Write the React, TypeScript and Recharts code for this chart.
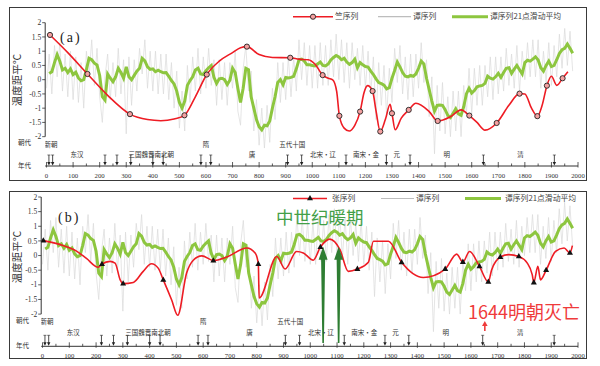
import React from "react"
import { ComposedChart, Line, Scatter, XAxis, YAxis, ReferenceLine } from "recharts"

// ---- data ----

// 谭序列: annual stalagmite series, sampled every 10 years from year 0
const TAN_START = 0
const TAN_STEP = 10
const tanAnnual = [
  -0.3, 0.9, -0.5, 1.2, 0.1, 1.3, -0.4, 0.9, -0.6, 1.0,
  -0.7, 0.8, -0.8, 0.6, -1.0, 1.0, 0.1, 1.4, -0.2, 1.1,
  -0.6, -1.5, 0.1, 0.9, -0.7, 0.6, -0.6, 1.1, -0.5, 0.7,
  -1.9, 0.8, -0.9, 0.7, -0.4, 1.1, 0.2, 1.4, -0.3, 1.0,
  -0.4, 1.0, -0.5, 0.9, -0.5, 0.9, -0.7, 0.6, -1.0, 0.3,
  -1.7, -0.4, -1.8, 0.5, -0.8, 0.8, -0.4, 1.1, -0.5, 0.8,
  -0.3, 1.1, -0.2, 0.7, -0.9, 0.7, -0.7, 0.6, -0.9, 0.6,
  -0.3, 1.0, -1.1, -1.6, 0.4, 1.2, -0.4, 0.3, -1.8, -0.7,
  -2.3, -1.0, -2.4, -0.9, -2.2, -0.3, -1.4, 0.6, -0.8, 0.6,
  -0.7, 0.8, -0.6, 0.8, -0.4, 1.4, 0.0, 1.3, -0.2, 1.2,
  -0.3, 1.2, -0.3, 1.3, -0.2, 1.2, -0.2, 1.4, 0.1, 1.6,
  0.0, 1.4, -0.1, 1.3, -0.3, 1.3, 0.0, 1.1, -0.2, 1.2,
  -0.3, 1.0, -0.5, 0.8, -1.4, 0.6, -0.9, 0.5, -1.3, 0.4,
  -0.8, 1.1, -0.1, 1.2, -0.5, 0.8, -0.7, 0.9, -0.6, 0.9,
  -0.3, 1.3, -0.1, 0.7, -1.3, 0.1, -2.6, -0.2, -1.8, -0.1,
  -1.9, -0.6, -2.0, -0.4, -1.8, -0.4, -2.0, -0.2, -1.2, 0.4,
  -1.2, 0.4, -0.9, 0.5, -0.9, 0.5, -0.6, 0.8, -0.7, 0.8,
  -0.5, 0.8, -0.4, 1.1, -0.2, 0.9, -0.3, 1.2, -0.4, 1.0,
  0.0, 1.3, 0.1, 1.4, 0.1, 1.4, -0.3, 1.0, -0.1, 1.3,
  -0.2, 1.2, 0.1, 1.6, 0.4, 1.8, 0.5, 1.7, 0.3,
]

// 谭序列21点滑动平均, every 10 years from year 10
const SMOOTH_START = 10
const SMOOTH_STEP = 10
const tanSmooth = [
  0.22, 0.28, 0.6, 0.88, 0.65, 0.34, 0.4, 0.25, 0.38, 0.18,
  0.26, 0.06, -0.04, 0.0, 0.35, 0.75, 0.7, 0.58, 0.52, 0.15,
  -0.6, -0.72, 0.2, 0.05, -0.07, 0.1, 0.4, 0.25, 0.05, 0.45,
  0.1, 0.0, 0.15, 0.3, 0.4, 0.75, 0.66, 0.45, 0.36, 0.38,
  0.28, 0.33, 0.28, 0.24, 0.25, 0.12, -0.03, -0.15, -0.4, -0.8,
  -1.0, -0.75, -0.2, -0.03, 0.1, 0.34, 0.4, 0.2, 0.18, 0.32,
  0.42, 0.5, 0.08, -0.13, 0.03, 0.05, 0.0, -0.17, -0.02, 0.4,
  0.25, -0.3, -0.8, -0.3, 0.4, 0.35, -0.6, -1.0, -1.4, -1.65,
  -1.76, -1.6, -1.62, -1.45, -1.0, -0.6, -0.1, 0.0, -0.18, 0.08,
  0.06, 0.08, 0.12, 0.38, 0.7, 0.72, 0.65, 0.52, 0.52, 0.5,
  0.48, 0.55, 0.62, 0.5, 0.48, 0.55, 0.69, 0.78, 0.85, 0.8,
  0.7, 0.75, 0.62, 0.54, 0.6, 0.72, 0.42, 0.6, 0.52, 0.46,
  0.44, 0.3, 0.18, 0.03, -0.1, -0.14, -0.19, -0.32, -0.28, 0.05,
  0.32, 0.62, 0.45, 0.25, 0.12, 0.1, 0.15, 0.12, 0.2, 0.4,
  0.65, 0.55, 0.05, -0.35, -0.75, -1.1, -0.9, -0.89, -0.9, -1.05,
  -1.25, -1.33, -1.18, -1.02, -1.2, -1.25, -0.95, -0.5, -0.3, -0.47,
  -0.38, -0.25, -0.22, -0.2, -0.13, 0.12, 0.05, 0.02, 0.1, 0.22,
  0.08, 0.25, 0.4, 0.42, 0.22, 0.37, 0.5, 0.35, 0.2, 0.6,
  0.68, 0.65, 0.72, 0.8, 0.69, 0.42, 0.3, 0.5, 0.65, 0.46,
  0.5, 0.7, 0.92, 1.05, 1.1, 1.25, 1.1, 0.93,
]

// 竺序列 (panel a)
const zhuYears = [
  13, 80, 154, 230, 314, 380, 430, 480, 519, 560, 603, 650, 700, 730, 754, 800, 850, 917, 950, 985,
  1010, 1039, 1060, 1077, 1092, 1102, 1120, 1139, 1160, 1180, 1195, 1208, 1227, 1240, 1256, 1275,
  1293, 1300, 1312, 1335, 1363, 1390, 1440, 1472, 1520, 1560, 1591, 1620, 1650, 1694, 1740, 1780,
  1800, 1825, 1847, 1865, 1883, 1900, 1920, 1942, 1962,
]
const zhuValues = [
  1.57, 0.95, 0.2, -0.55, -1.21, -1.4, -1.44, -1.38, -1.25, -0.6, 0.18, 0.65, 0.95, 1.12, 1.16, 0.88, 0.78, 0.77, 0.72, 0.7,
  0.55, 0.16, 0.05, -0.01, -0.42, -1.27, -1.7, -1.8, -1.6, -1.12, -0.45, -0.21, -0.4, -1.1, -1.82, -1.4,
  -0.86, -1.18, -1.76, -1.35, -1.06, -0.83, -1.12, -1.45, -1.3, -1.06, -1.26, -1.5, -1.77, -1.52, -0.9, -0.49,
  -0.5, -1.0, -1.28, -0.9, -0.21, 0.12, -0.2, 0.05, 0.28,
]
const zhuMarkYears = [13, 154, 314, 519, 603, 754, 917, 1039, 1102, 1180, 1227, 1256, 1300, 1363, 1472, 1591, 1694, 1780, 1847, 1883, 1942]

// 张序列 (panel b)
const zhangYears = [
  3, 90, 127, 164, 208, 222, 252, 271, 290, 301, 339, 376, 407, 432, 451, 482, 505, 538, 563, 595,
  638, 688, 763, 794, 806, 809, 875, 906, 949, 974, 1011, 1038, 1073, 1111, 1142, 1176, 1217, 1236,
  1292, 1341, 1422, 1504, 1547, 1570, 1595, 1632, 1665, 1677, 1710, 1741, 1779, 1810, 1829, 1835,
  1850, 1860, 1881, 1916, 1948, 1970, 1979,
]
const zhangValues = [
  0.51, 0.3, 0.15, -0.1, -0.4, -0.29, -0.2, -0.26, -0.83, -0.96, -0.92, -0.54, -0.28, -0.43, -0.83, -1.51, -2.04, -0.6, -0.16, -0.01,
  -0.17, -0.05, 0.26, 0.09, -0.29, -1.45, -0.03, -0.46, 0.14, 0.09, -0.16, 0.29, 0.56, 0.2, -0.54, -0.46, -0.23, 0.49,
  0.49, -0.23, -0.75, -0.46, 0.05, -0.22, 0.14, -0.37, -0.9, -0.5, -0.05, 0.03, -0.03, -0.25, -0.65, -0.92,
  -0.37, -0.83, -0.5, 0.14, 0.26, 0.09, 0.34,
]
const zhangMarkYears = [3, 222, 301, 451, 638, 806, 1038, 1176, 1341, 1504, 1570, 1632, 1665, 1710, 1779, 1835, 1881, 1970]

// dynasty timeline
const dynastyNames = ["新朝", "东汉", "三国魏晋南北朝", "隋", "唐", "五代十国", "北宋・辽", "南宋・金", "元", "明", "清"]
const dynastyYears = [17, 115, 394, 600, 773, 925, 1040, 1202, 1318, 1506, 1784]
const dynastyUpper = [true, false, false, true, false, true, false, false, false, false, false]
const dynastyBreaks = [9, 23, 220, 265, 317, 400, 439, 581, 618, 907, 960, 1127, 1279, 1368, 1644, 1911]

const yearLabels = [0, 100, 200, 300, 400, 500, 600, 700, 800, 900, 1000, 1100, 1200, 1300, 1400, 1500, 1600, 1700, 1800, 1900, 2000]
const tempTicks = [-2, -1.5, -1, -0.5, 0, 0.5, 1, 1.5, 2]

const warmPeriodYears = [1048, 1106]
const MING_FALL_YEAR = 1652

// ---- helpers ----
const FONT_CJK = '"Noto Sans CJK SC", "Noto Sans", sans-serif'
const FONT_NUM = '"Liberation Serif", "DejaVu Serif", serif'
const RED = "#ee1c24"
const GREEN = "#8dc63f"
const GRAY = "#dadada"

const fromStep = (start: number, step: number, vals: number[]) => vals.map((v, i) => ({ year: start + i * step, v }))
const fromPairs = (years: number[], vals: number[]) => years.map((year, i) => ({ year, v: vals[i] }))

const grayData = fromStep(TAN_START, TAN_STEP, tanAnnual)
const greenData = fromStep(SMOOTH_START, SMOOTH_STEP, tanSmooth)
const zhuData = fromPairs(zhuYears, zhuValues)
const zhuMarks = zhuData.filter((d) => zhuMarkYears.includes(d.year))
const zhangData = fromPairs(zhangYears, zhangValues)
const zhangMarks = zhangData.filter((d) => zhangMarkYears.includes(d.year))

const xTicks = [...yearLabels, ...yearLabels.slice(0, -1).map((y) => y + 50)].sort((a, b) => a - b)
const UPPER_ROW = -2.27
const LOWER_ROW = -2.64
const dynastyData = dynastyNames.map((name, i) => ({ year: dynastyYears[i], v: dynastyUpper[i] ? UPPER_ROW : LOWER_ROW, name }))

function YearTick({ x, y, payload }: any) {
  const v = payload.value
  const major = v % 100 === 0
  return (
    <g>
      <line x1={x} x2={x} y1={y - (major ? 4 : 2.5)} y2={y + (major ? 1.5 : 0)} stroke="#333" strokeWidth={0.8} />
      {major && (
        <text x={x} y={y + 12} textAnchor="middle" fontSize={6.8} fontFamily={FONT_NUM} fill="#333">
          {v}
        </text>
      )}
    </g>
  )
}

const circleMark = (p: any) => <circle cx={p.cx} cy={p.cy} r={2.6} fill="#f4a0a0" stroke="#222" strokeWidth={0.9} />
const triangleMark = (p: any) => (
  <path d={`M${p.cx},${p.cy - 3.4} L${p.cx + 3},${p.cy + 1.9} L${p.cx - 3},${p.cy + 1.9} Z`} fill="#111" />
)
const breakArrow = (p: any) => (
  <g>
    <line x1={p.cx} x2={p.cx} y1={p.cy - 11} y2={p.cy - 3} stroke="#222" strokeWidth={0.8} />
    <line x1={p.cx - 1.5} x2={p.cx + 1.5} y1={p.cy - 11} y2={p.cy - 11} stroke="#222" strokeWidth={0.6} />
    <path d={`M${p.cx - 1.7},${p.cy - 4} L${p.cx + 1.7},${p.cy - 4} L${p.cx},${p.cy - 0.5} Z`} fill="#222" />
  </g>
)
const dynastyLabel = (p: any) => (
  <text x={p.cx} y={p.cy} dy="0.35em" textAnchor="middle" fontSize={6.5} fontFamily={FONT_CJK} fill="#333">
    {p.payload.name}
  </text>
)
const greenArrow = (p: any) => {
  const { x1, y1, y2 } = p
  const x = x1
  const head = y2 + 13
  const pts = [
    [x, y2], [x + 4.5, head], [x + 2, head], [x + 0.8, y1], [x - 0.8, y1], [x - 2, head], [x - 4.5, head],
  ]
  return <polygon points={pts.map((q) => q.join(",")).join(" ")} fill="#2e7d32" />
}
const redArrow = (p: any) => {
  const { x1, y1, y2 } = p
  return (
    <g>
      <line x1={x1} x2={x1} y1={y1} y2={y2 + 4} stroke="#ef3b3b" strokeWidth={1.6} />
      <path d={`M${x1 - 2.8},${y2 + 5} L${x1 + 2.8},${y2 + 5} L${x1},${y2} Z`} fill="#ef3b3b" />
    </g>
  )
}

type PanelProps = {
  top: number
  height: number
  marginTop: number
  marginBottom: number
  axisWidth: number
  yMin: number
  red: { year: number; v: number }[]
  marks: { year: number; v: number }[]
  mark: (p: any) => React.ReactElement
  annotate?: boolean
}

function Panel({ top, height, marginTop, marginBottom, axisWidth, yMin, red, marks, mark, annotate }: PanelProps) {
  const breakData = dynastyBreaks.map((year) => ({ year, v: yMin }))
  return (
    <div style={{ position: "absolute", left: 0, top }}>
      <ComposedChart width={600} height={height} margin={{ top: marginTop, right: 22, bottom: marginBottom, left: 0 }}>
        <XAxis
          type="number"
          dataKey="year"
          domain={[-5, 2000]}
          allowDataOverflow
          ticks={xTicks}
          interval={0}
          tickLine={false}
          tickSize={0}
          tickMargin={0}
          tick={<YearTick />}
          axisLine={{ stroke: "#333", strokeWidth: 1 }}
          height={14}
        />
        <YAxis
          type="number"
          domain={[yMin, 2]}
          allowDataOverflow
          ticks={tempTicks}
          interval={0}
          width={axisWidth}
          axisLine={false}
          tickSize={3}
          tickMargin={1}
          tickLine={{ stroke: "#333", strokeWidth: 0.8 }}
          tick={{ fontSize: 7.5, fill: "#333", fontFamily: FONT_NUM }}
        />
        <ReferenceLine segment={[{ x: -5, y: -2 }, { x: -5, y: 2 }]} stroke="#333" strokeWidth={1} ifOverflow="visible" />
        <Line data={grayData} dataKey="v" type="linear" stroke={GRAY} strokeWidth={0.7} dot={false} isAnimationActive={false} />
        <Line data={greenData} dataKey="v" type="linear" stroke={GREEN} strokeWidth={3} dot={false} isAnimationActive={false} />
        <Line data={red} dataKey="v" type="monotone" stroke={RED} strokeWidth={1.6} dot={false} isAnimationActive={false} />
        <Scatter data={marks} dataKey="v" shape={mark} isAnimationActive={false} />
        <Scatter data={breakData} dataKey="v" shape={breakArrow} isAnimationActive={false} />
        <Scatter data={dynastyData} dataKey="v" shape={dynastyLabel} isAnimationActive={false} />
        {annotate &&
          warmPeriodYears.map((yr) => (
            <ReferenceLine key={yr} segment={[{ x: yr, y: -2.99 }, { x: yr, y: 0.3 }]} ifOverflow="visible" shape={greenArrow} />
          ))}
        {annotate && (
          <ReferenceLine segment={[{ x: MING_FALL_YEAR, y: -2.58 }, { x: MING_FALL_YEAR, y: -2.24 }]} ifOverflow="visible" shape={redArrow} />
        )}
      </ComposedChart>
    </div>
  )
}

function Legend({ y, first, redWidth, marker, spots }: { y: number; first: string; redWidth: number; marker: "circle" | "triangle"; spots: number[] }) {
  const [r0, t0, g0, t1, n0, t2] = spots
  const mid = r0 + redWidth / 2
  return (
    <g fontFamily={FONT_CJK} fontSize={7.8} fill="#444">
      <line x1={r0} x2={r0 + redWidth} y1={y} y2={y} stroke={RED} strokeWidth={1.6} />
      {marker === "circle" ? (
        <circle cx={mid} cy={y} r={2.6} fill="#f4a0a0" stroke="#222" strokeWidth={0.9} />
      ) : (
        <path d={`M${mid},${y - 3.4} L${mid + 3},${y + 1.8} L${mid - 3},${y + 1.8} Z`} fill="#111" />
      )}
      <text x={t0} y={y} dy="0.35em">{first}</text>
      <line x1={g0} x2={g0 + 33} y1={y} y2={y} stroke="#bdbdbd" strokeWidth={1.2} />
      <text x={t1} y={y} dy="0.35em">谭序列</text>
      <line x1={n0} x2={n0 + 36} y1={y} y2={y} stroke={GREEN} strokeWidth={3} />
      <text x={t2} y={y} dy="0.35em">谭序列21点滑动平均</text>
    </g>
  )
}

export default function App() {
  return (
    <div style={{ position: "absolute", left: 0, top: 0, width: 600, height: 366, background: "#fff", overflow: "hidden" }}>
      <div style={{ position: "absolute", left: 9, top: 7, width: 576, height: 172, border: "1.5px solid #3a3a3a" }} />
      <div style={{ position: "absolute", left: 9, top: 191, width: 576, height: 166, border: "1.5px solid #3a3a3a" }} />
      <Panel top={0} height={185} marginTop={22.7} marginBottom={5} axisWidth={45.2} yMin={-3.03}
        red={zhuData} marks={zhuMarks} mark={circleMark} />
      <Panel top={180} height={186} marginTop={17} marginBottom={5.7} axisWidth={41.2} yMin={-3.1}
        red={zhangData} marks={zhangMarks} mark={triangleMark} annotate />
      <svg width={600} height={366} style={{ position: "absolute", left: 0, top: 0, pointerEvents: "none" }}>
        <Legend y={16.7} first="竺序列" redWidth={40} marker="circle" spots={[293, 335, 378, 413, 452, 490]} />
        <Legend y={198.5} first="张序列" redWidth={34} marker="triangle" spots={[293, 332, 381, 416, 465, 505]} />
        <text x={60} y={42} fontSize={14} fontFamily={FONT_NUM} letterSpacing={2} fill="#222">(a)</text>
        <text x={58} y={222} fontSize={14} fontFamily={FONT_NUM} letterSpacing={2} fill="#222">(b)</text>
        <g fontFamily={FONT_CJK} fontSize={10.5} fill="#333" textAnchor="middle">
          <text transform="translate(17,80) rotate(-90)" dy="0.35em">温度距平℃</text>
          <text transform="translate(17,257) rotate(-90)" dy="0.35em">温度距平℃</text>
        </g>
        <g fontFamily={FONT_CJK} fontSize={6.5} fill="#333">
          <text x={18} y={143} dy="0.35em">朝代</text>
          <text x={18} y={166} dy="0.35em">年代</text>
          <text x={16} y={321} dy="0.35em">朝代</text>
          <text x={16} y={346} dy="0.35em">年代</text>
        </g>
        <text x={276} y={217.5} dy="0.35em" fontSize={17.5} fontFamily={FONT_CJK} fill="#43a047">中世纪暖期</text>
        <text x={468} y={313} dy="0.35em" fontSize={18} fontFamily={FONT_CJK} fill="#ef3b3b">1644明朝灭亡</text>
      </svg>
    </div>
  )
}
